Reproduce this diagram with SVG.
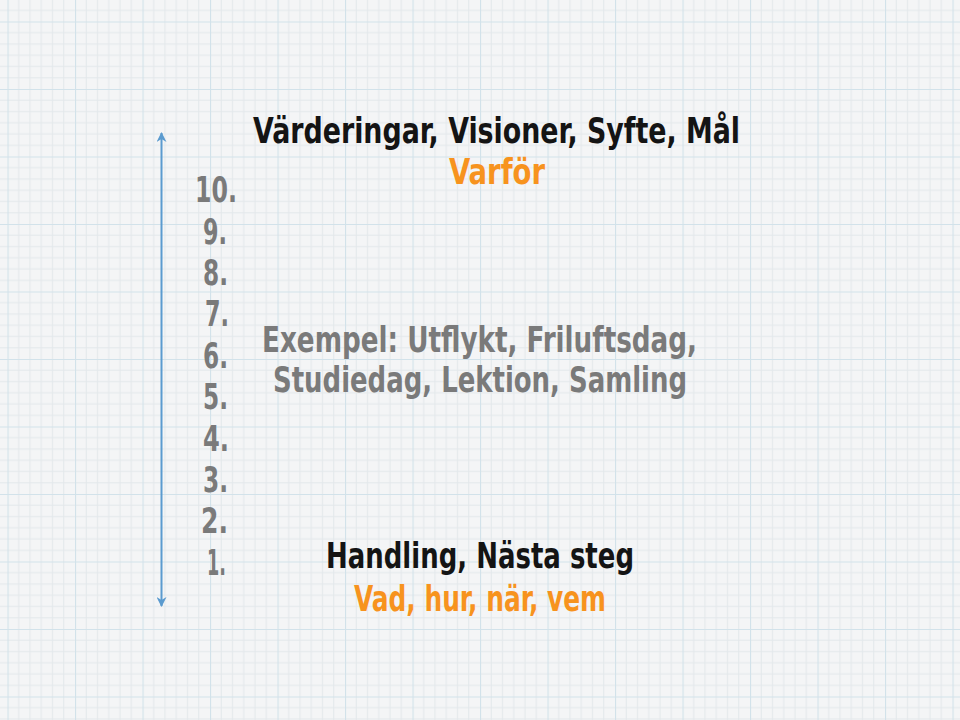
<svg xmlns="http://www.w3.org/2000/svg" width="960" height="720" viewBox="0 0 960 720">
<style>
text{font-family:"Liberation Sans Narrow","DejaVu Sans Condensed","Liberation Sans",sans-serif;font-weight:bold;}
.num{fill:#7a7a7a;font-size:35px;}
.blk{fill:#141414;font-size:36px;text-anchor:middle;}
.org{fill:#f7931e;font-size:35px;text-anchor:middle;}
.gry{fill:#7a7a7a;font-size:35px;text-anchor:middle;}
.minor{stroke:#e3e8eb;stroke-width:1;}
.major{stroke:#d2e2ea;stroke-width:1.2;}
</style>
<defs>
<pattern id="grid" patternUnits="userSpaceOnUse" x="7.5" y="21.5" width="67.5" height="67.5">
<rect width="67.5" height="67.5" fill="#f4f5f6"/>
<path class="minor" d="M11.25 0V67.5M22.5 0V67.5M33.75 0V67.5M45 0V67.5M56.25 0V67.5M0 11.25H67.5M0 22.5H67.5M0 33.75H67.5M0 45H67.5M0 56.25H67.5" fill="none"/>
<path class="major" d="M0.5 0V67.5M0 0.5H67.5" fill="none"/>
</pattern>
<marker id="ah" viewBox="0 0 10 10" refX="9" refY="5" markerWidth="5" markerHeight="5" orient="auto-start-reverse" markerUnits="strokeWidth">
<path d="M0 0L10 5L0 10L3 5Z" fill="#5b9bcf"/>
</marker>
<filter id="blur" x="-50%" y="-10%" width="200%" height="120%"><feGaussianBlur stdDeviation="3"/></filter>
</defs>
<rect width="960" height="720" fill="url(#grid)"/>
<g id="connectors">
<line x1="170" y1="140" x2="170" y2="600" stroke="#f7b57a" stroke-width="6" opacity="0.35" filter="url(#blur)"/>
<line x1="161.5" y1="133" x2="161.5" y2="606" stroke="#5b9bcf" stroke-width="2" marker-start="url(#ah)" marker-end="url(#ah)"/>
</g>
<g id="scale">
<text class="num" x="195" y="202" textLength="42" lengthAdjust="spacingAndGlyphs">10.</text>
<text class="num" x="203" y="244" textLength="24" lengthAdjust="spacingAndGlyphs">9.</text>
<text class="num" x="203" y="285" textLength="25" lengthAdjust="spacingAndGlyphs">8.</text>
<text class="num" x="205" y="326" textLength="24" lengthAdjust="spacingAndGlyphs">7.</text>
<text class="num" x="203" y="368" textLength="25" lengthAdjust="spacingAndGlyphs">6.</text>
<text class="num" x="203" y="409" textLength="25" lengthAdjust="spacingAndGlyphs">5.</text>
<text class="num" x="203" y="451" textLength="26" lengthAdjust="spacingAndGlyphs">4.</text>
<text class="num" x="203" y="492" textLength="25" lengthAdjust="spacingAndGlyphs">3.</text>
<text class="num" x="201" y="533" textLength="27" lengthAdjust="spacingAndGlyphs">2.</text>
<text class="num" x="207" y="575" textLength="19" lengthAdjust="spacingAndGlyphs">1.</text>
</g>
<g id="top">
<text class="blk" x="496.5" y="143" textLength="487" lengthAdjust="spacingAndGlyphs">Värderingar, Visioner, Syfte, Mål</text>
<text class="org" x="497" y="184" textLength="96" lengthAdjust="spacingAndGlyphs">Varför</text>
</g>
<g id="middle">
<text class="gry" x="479.5" y="352" textLength="435" lengthAdjust="spacingAndGlyphs">Exempel: Utflykt, Friluftsdag,</text>
<text class="gry" x="480" y="392" textLength="414" lengthAdjust="spacingAndGlyphs">Studiedag, Lektion, Samling</text>
</g>
<g id="bottom">
<text class="blk" x="480" y="568" textLength="308" lengthAdjust="spacingAndGlyphs">Handling, Nästa steg</text>
<text class="org" x="480" y="611" textLength="252" lengthAdjust="spacingAndGlyphs">Vad, hur, när, vem</text>
</g>
</svg>
